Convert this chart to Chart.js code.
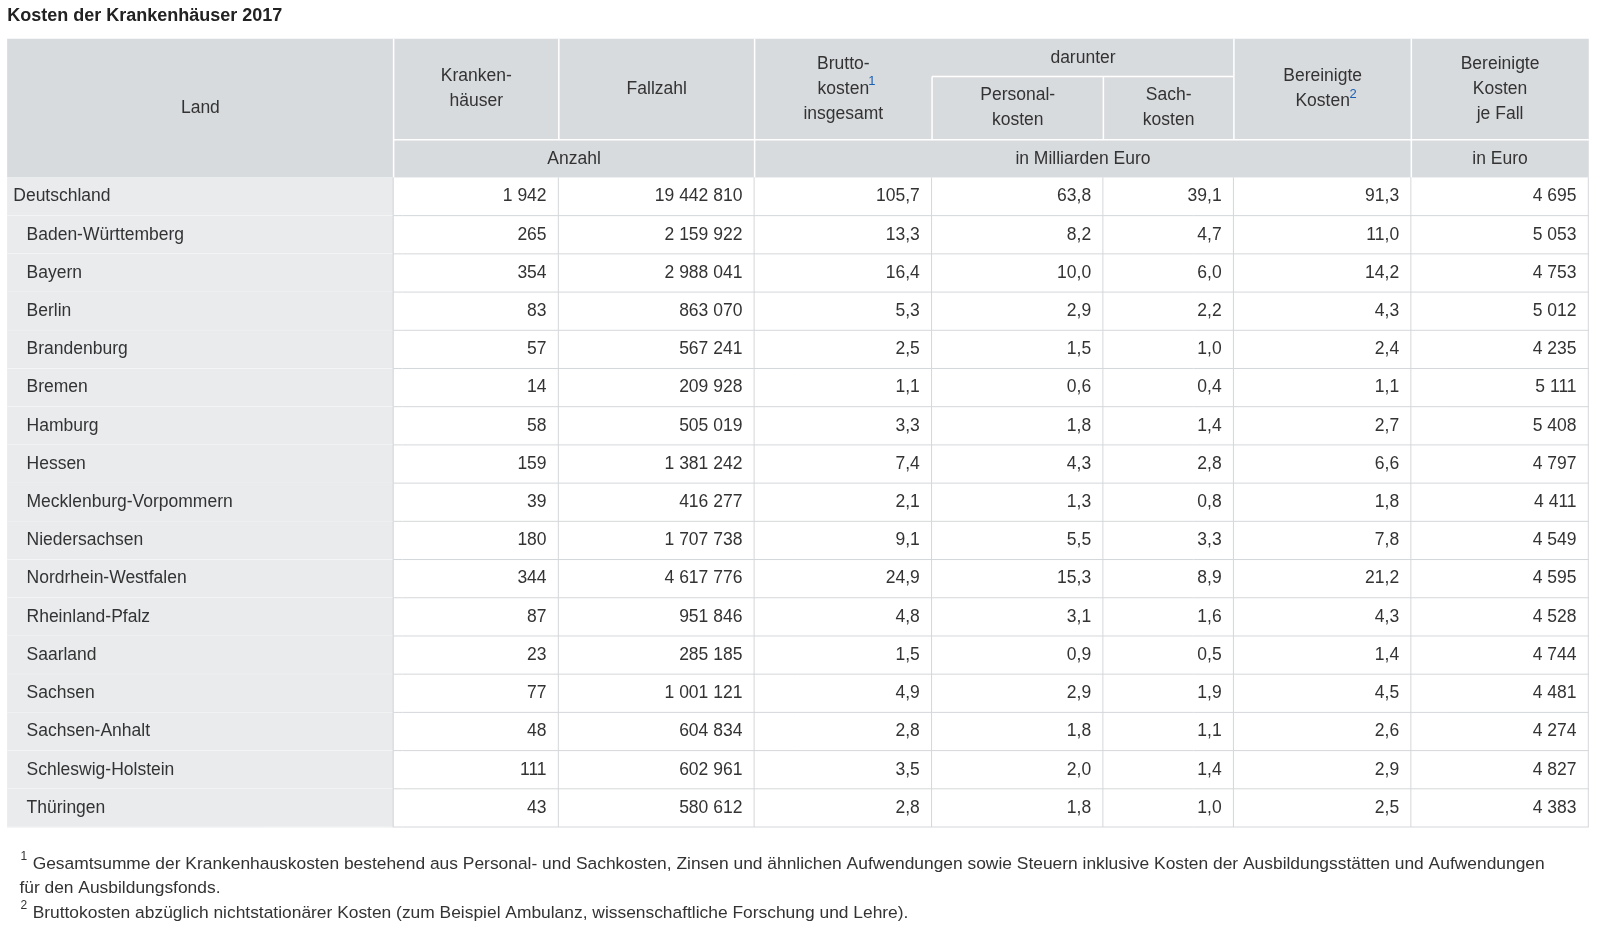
<!DOCTYPE html>
<html><head><meta charset="utf-8">
<script src="https://cdn.jsdelivr.net/npm/chart.js@4/dist/chart.umd.min.js"></script>
<style>html,body{margin:0;background:#fff}#c{display:block}</style>
</head><body>
<canvas id="c" width="1600" height="933"></canvas>
<script>
// Data
const lands = ['Deutschland', 'Baden-Württemberg', 'Bayern', 'Berlin', 'Brandenburg', 'Bremen', 'Hamburg', 'Hessen',
  'Mecklenburg-Vorpommern', 'Niedersachsen', 'Nordrhein-Westfalen', 'Rheinland-Pfalz', 'Saarland', 'Sachsen',
  'Sachsen-Anhalt', 'Schleswig-Holstein', 'Thüringen'];
const krankenhaeuser = ['1 942', '265', '354', '83', '57', '14', '58', '159', '39', '180', '344', '87', '23', '77', '48', '111', '43'];
const fallzahl = ['19 442 810', '2 159 922', '2 988 041', '863 070', '567 241', '209 928', '505 019', '1 381 242', '416 277',
  '1 707 738', '4 617 776', '951 846', '285 185', '1 001 121', '604 834', '602 961', '580 612'];
const brutto = ['105,7', '13,3', '16,4', '5,3', '2,5', '1,1', '3,3', '7,4', '2,1', '9,1', '24,9', '4,8', '1,5', '4,9', '2,8', '3,5', '2,8'];
const personal = ['63,8', '8,2', '10,0', '2,9', '1,5', '0,6', '1,8', '4,3', '1,3', '5,5', '15,3', '3,1', '0,9', '2,9', '1,8', '2,0', '1,8'];
const sach = ['39,1', '4,7', '6,0', '2,2', '1,0', '0,4', '1,4', '2,8', '0,8', '3,3', '8,9', '1,6', '0,5', '1,9', '1,1', '1,4', '1,0'];
const bereinigt = ['91,3', '11,0', '14,2', '4,3', '2,4', '1,1', '2,7', '6,6', '1,8', '7,8', '21,2', '4,3', '1,4', '4,5', '2,6', '2,9', '2,5'];
const jeFall = ['4 695', '5 053', '4 753', '5 012', '4 235', '5 111', '5 408', '4 797', '4 411', '4 549', '4 595', '4 528', '4 744',
  '4 481', '4 274', '4 827', '4 383'];
const columns = [krankenhaeuser, fallzahl, brutto, personal, sach, bereinigt, jeFall];

// Layout (measured on a 1569 wide view, scaled up by S)
const S = 1600 / 1569;
const s = v => v * S;
const EDGES = [7, 386, 548, 740, 914, 1082, 1210, 1384, 1558];
const HEAD_TOP = s(38), HEAD_SUB = s(75), HEAD_MID = s(137), DATA_TOP = s(174), DATA_BOT = s(811);
const FF = '"Liberation Sans", Arial, sans-serif';
const FONT = '17.5px ' + FF;
const TEXT = '#333';
const HEAD_BG = '#d8dbde';
const LAND_BG = '#e9ebed';

function lines(ctx, arr, x, yc, lh) {
  const y0 = yc - (arr.length - 1) * lh / 2;
  arr.forEach((t, i) => ctx.fillText(t, x, y0 + i * lh));
}

const tablePlugin = {
  id: 'table',
  afterDraw(chart) {
    const ctx = chart.ctx;
    const ys = chart.scales.y;
    const xs = chart.scales.x;
    const rowH = (ys.bottom - ys.top) / lands.length;
    const px = v => xs.getPixelForValue(v);
    ctx.save();

    // title
    ctx.fillStyle = '#222';
    ctx.font = 'bold 18px ' + FF;
    ctx.textBaseline = 'middle';
    ctx.textAlign = 'left';
    ctx.fillText('Kosten der Krankenhäuser 2017', s(7), s(16));

    // header background
    ctx.fillStyle = HEAD_BG;
    ctx.fillRect(px(EDGES[0]), HEAD_TOP, px(EDGES[8]) - px(EDGES[0]), DATA_TOP - HEAD_TOP);
    ctx.strokeStyle = '#fff';
    ctx.lineWidth = 1.5;
    ctx.beginPath();
    [1, 2, 3, 6, 7].forEach(i => { ctx.moveTo(px(EDGES[i]), HEAD_TOP); ctx.lineTo(px(EDGES[i]), HEAD_MID); });
    [4, 5].forEach(i => { ctx.moveTo(px(EDGES[i]), HEAD_SUB); ctx.lineTo(px(EDGES[i]), HEAD_MID); });
    [1, 3, 7].forEach(i => { ctx.moveTo(px(EDGES[i]), HEAD_MID); ctx.lineTo(px(EDGES[i]), DATA_TOP); });
    ctx.moveTo(px(EDGES[1]), HEAD_MID); ctx.lineTo(px(EDGES[8]), HEAD_MID);
    ctx.moveTo(px(EDGES[4]), HEAD_SUB); ctx.lineTo(px(EDGES[6]), HEAD_SUB);
    ctx.stroke();

    ctx.fillStyle = TEXT;
    ctx.font = FONT;
    ctx.textAlign = 'center';
    const cx = i => (px(EDGES[i]) + px(EDGES[i + 1])) / 2;
    const lh = s(24.5);
    ctx.fillText('Land', cx(0), s(106));
    lines(ctx, ['Kranken-', 'häuser'], cx(1), s(87), lh);
    ctx.fillText('Fallzahl', cx(2), s(87));
    lines(ctx, ['Brutto-', 'kosten', 'insgesamt'], cx(3), s(87), lh);
    ctx.fillText('darunter', (px(EDGES[4]) + px(EDGES[6])) / 2, s(57));
    lines(ctx, ['Personal-', 'kosten'], cx(4), s(106), lh);
    lines(ctx, ['Sach-', 'kosten'], cx(5), s(106), lh);
    lines(ctx, ['Bereinigte', 'Kosten'], cx(6), s(87), lh);
    lines(ctx, ['Bereinigte', 'Kosten', 'je Fall'], cx(7), s(87), lh);
    ctx.fillText('Anzahl', (px(EDGES[1]) + px(EDGES[3])) / 2, s(156));
    ctx.fillText('in Milliarden Euro', (px(EDGES[3]) + px(EDGES[7])) / 2, s(156));
    ctx.fillText('in Euro', cx(7), s(156));
    ctx.fillStyle = '#1a5fb4';
    ctx.font = '13px ' + FF;
    ctx.fillText('1', px(855), s(80));
    ctx.fillText('2', px(1327), s(93));

    // data rows
    lands.forEach((land, r) => {
      const yc = ys.getPixelForValue(r);
      const top = yc - rowH / 2;
      ctx.fillStyle = LAND_BG;
      ctx.fillRect(px(EDGES[0]), top, px(EDGES[1]) - px(EDGES[0]), rowH);
      ctx.strokeStyle = '#d4d7da';
      ctx.lineWidth = 1;
      ctx.beginPath();
      ctx.moveTo(px(EDGES[0]), top + rowH); ctx.lineTo(px(EDGES[8]), top + rowH);
      for (let i = 1; i < EDGES.length; i++) { ctx.moveTo(px(EDGES[i]) - 0.5, top); ctx.lineTo(px(EDGES[i]) - 0.5, top + rowH); }
      ctx.stroke();
      ctx.strokeStyle = '#fff';
      ctx.beginPath();
      ctx.moveTo(px(EDGES[0]), top + rowH); ctx.lineTo(px(EDGES[1]) - 1, top + rowH);
      ctx.stroke();

      ctx.fillStyle = TEXT;
      ctx.font = FONT;
      ctx.textAlign = 'left';
      ctx.fillText(land, px(r === 0 ? 13 : 26), yc);
      ctx.textAlign = 'right';
      columns.forEach((col, c) => ctx.fillText(col[r], px(EDGES[c + 2]) - s(12), yc));
    });

    // footnotes
    ctx.fillStyle = TEXT;
    ctx.textAlign = 'left';
    ctx.font = '17.4px ' + FF;
    ctx.fillText('Gesamtsumme der Krankenhauskosten bestehend aus Personal- und Sachkosten, Zinsen und ähnlichen Aufwendungen sowie Steuern inklusive Kosten der Ausbildungsstätten und Aufwendungen', s(32), s(847));
    ctx.fillText('für den Ausbildungsfonds.', s(19), s(871));
    ctx.fillText('Bruttokosten abzüglich nichtstationärer Kosten (zum Beispiel Ambulanz, wissenschaftliche Forschung und Lehre).', s(32), s(896));
    ctx.font = '12px ' + FF;
    ctx.fillText('1', s(20), s(840));
    ctx.fillText('2', s(20), s(888));
    ctx.restore();
  }
};

new Chart(document.getElementById('c'), {
  type: 'bar',
  data: { labels: lands, datasets: [{ data: [], backgroundColor: 'transparent' }] },
  options: {
    responsive: false,
    animation: false,
    indexAxis: 'y',
    layout: { padding: { top: DATA_TOP, bottom: 933 - DATA_BOT, left: s(7), right: 1600 - s(1558) } },
    scales: {
      y: { type: 'category', display: false, offset: true },
      x: { type: 'linear', display: false, min: 7, max: 1558 }
    },
    plugins: { legend: { display: false }, tooltip: { enabled: false } }
  },
  plugins: [tablePlugin]
});
</script>
</body></html>
